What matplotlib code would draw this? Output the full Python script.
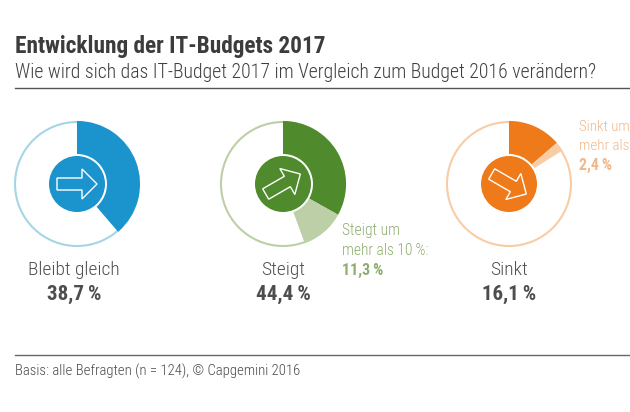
import matplotlib
matplotlib.use("Agg")
import numpy as np
import matplotlib.pyplot as plt
from matplotlib.patches import Wedge, Circle, Polygon

W, H = 630, 412

title = "Entwicklung der IT-Budgets 2017"
subtitle = "Wie wird sich das IT-Budget 2017 im Vergleich zum Budget 2016 verändern?"
footer = "Basis: alle Befragten (n = 124), © Capgemini 2016"

categories = ["Bleibt gleich", "Steigt", "Sinkt"]
totals = [38.7, 44.4, 16.1]
strong_share = [0.0, 11.3, 2.4]
total_labels = ["38,7\u2009%", "44,4\u2009%", "16,1\u2009%"]
arrow_angles = [0, 30, -30]

dark_colors = ["#1b93cd", "#4f8a2c", "#ee7a1a"]
light_colors = ["#a6d5e6", "#bccfa6", "#f8cda6"]
note_colors = ["#a6d5e6", "#8fae6e", "#f3b888"]
centers_x = [77, 283, 509]
label_x = [74, 283, 509]
center_y = 184
R_OUT, R_IN, R_DISC = 63, 30, 28

FONT = ["Roboto Condensed", "DejaVu Sans"]
plt.rcParams["font.family"] = FONT
fig = plt.figure(figsize=(W / 100, H / 100), dpi=100)
ax = fig.add_axes([0, 0, 1, 1])
ax.set_xlim(0, W)
ax.set_ylim(H, 0)
ax.axis("off")


def px(size):
    return size * 0.72


def arrow(cx, cy, angle, color):
    # arrow outline in local coords, pointing right
    pts = np.array([[-20, -6], [5, -6], [5, -15], [20, 0], [5, 15], [5, 6], [-20, 6]], float)
    a = np.deg2rad(-angle)
    rot = np.array([[np.cos(a), -np.sin(a)], [np.sin(a), np.cos(a)]])
    pts = pts @ rot.T + [cx, cy]
    ax.add_patch(Polygon(pts, closed=True, fc="none", ec=color, lw=1.0, zorder=5))


for i, cx in enumerate(centers_x):
    ax.add_patch(Circle((cx, center_y), R_OUT - 1, fc="white", ec=light_colors[i], lw=1.5))
    dark = totals[i] - strong_share[i]
    # y axis is flipped, so angle runs clockwise from -90 (top)
    start = -90
    mid = start + dark * 3.6
    end = start + totals[i] * 3.6
    ax.add_patch(Wedge((cx, center_y), R_OUT, start, mid, width=R_OUT - R_IN, fc=dark_colors[i], ec="none", zorder=2))
    if strong_share[i] > 0:
        ax.add_patch(Wedge((cx, center_y), R_OUT, mid, end, width=R_OUT - R_IN, fc=light_colors[i], ec="none", zorder=2))
    ax.add_patch(Circle((cx, center_y), R_DISC, fc=dark_colors[i], ec="none", zorder=3))
    arrow(cx, center_y, arrow_angles[i], "white")
    ax.text(label_x[i], 275, categories[i], ha="center", va="baseline", fontsize=px(19.5), color="#505050", fontweight=300)
    ax.text(label_x[i], 300, total_labels[i], ha="center", va="baseline", fontsize=px(21), color="#4d4d4d", fontweight="bold")

ax.text(15, 53, title, fontsize=px(23.3), fontweight="bold", color="#3c3c3c", va="baseline")
ax.text(15, 78, subtitle, fontsize=px(19.8), color="#3f3f3f", va="baseline", fontweight=300)
ax.plot([15, 630], [87.5, 87.5], color="#555555", lw=1)
ax.plot([15, 630], [355, 355], color="#666666", lw=1)
ax.text(15, 376, footer, fontsize=px(14.7), color="#4a4a4a", va="baseline", fontweight=300)

ax.text(342, 235, "Steigt um", fontsize=px(15.5), color=note_colors[1], va="baseline", fontweight=300)
ax.text(342, 255, "mehr als 10\u2009%:", fontsize=px(15.5), color=note_colors[1], va="baseline", fontweight=300)
ax.text(342, 275, "11,3\u2009%", fontsize=px(16), color=note_colors[1], va="baseline", fontweight="bold")
ax.text(579, 131, "Sinkt um", fontsize=px(15), color=note_colors[2], va="baseline", fontweight=300)
ax.text(579, 150, "mehr als", fontsize=px(15), color=note_colors[2], va="baseline", fontweight=300)
ax.text(579, 170, "2,4\u2009%", fontsize=px(16), color=note_colors[2], va="baseline", fontweight="bold")

fig.savefig("out.png", dpi=100)
